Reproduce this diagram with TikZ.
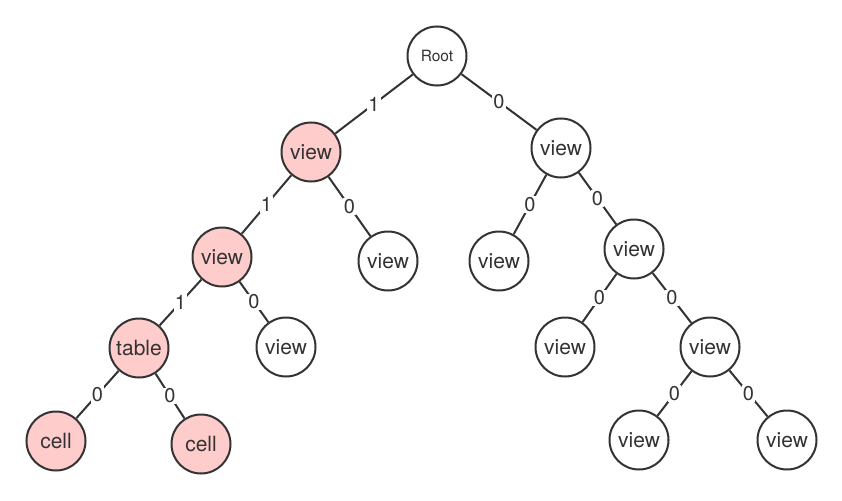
\documentclass[tikz,border=0pt]{standalone}
\usepackage{fontspec}
\setmainfont{TeX Gyre Heros}
\begin{document}
\begin{tikzpicture}[x=1pt,y=-1pt,
  ink/.style={draw=black!80},
  tnode/.style={circle,ink,line width=2pt,minimum size=59pt,inner sep=0pt,
    fill=white,font=\fontsize{21}{21}\selectfont,text=black!80},
  hot/.style={tnode,fill=red!20},
  edge/.style={ink,line width=2pt},
  bit/.style={fill=white,inner sep=1pt,font=\fontsize{20}{20}\selectfont,text=black!80}]
\useasboundingbox (0,0) rectangle (842,500);

% tree nodes
\node[tnode,font=\fontsize{15.5}{15.5}\selectfont] (root) at (437,56) {Root};
\node[hot]   (a)  at (311,152) {view};
\node[tnode] (b)  at (561,148) {view};
\node[hot]   (aa) at (222,257) {view};
\node[tnode] (ab) at (388,261) {view};
\node[tnode] (ba) at (499,261) {view};
\node[tnode] (bb) at (634,249) {view};
\node[hot]   (t)  at (139,348) {table};
\node[tnode] (ac) at (286,347) {view};
\node[tnode] (bc) at (565,347) {view};
\node[tnode] (bd) at (710,347) {view};
\node[hot]   (c1) at (56,441) {cell};
\node[hot]   (c2) at (201,444) {cell};
\node[tnode] (be) at (639,440) {view};
\node[tnode] (bf) at (787,440) {view};

% labelled branches
\draw[edge] (root) -- node[bit]{1} (a);
\draw[edge] (root) -- node[bit]{0} (b);
\draw[edge] (a)  -- node[bit]{1} (aa);
\draw[edge] (a)  -- node[bit]{0} (ab);
\draw[edge] (b)  -- node[bit]{0} (ba);
\draw[edge] (b)  -- node[bit]{0} (bb);
\draw[edge] (aa) -- node[bit]{1} (t);
\draw[edge] (aa) -- node[bit]{0} (ac);
\draw[edge] (bb) -- node[bit]{0} (bc);
\draw[edge] (bb) -- node[bit]{0} (bd);
\draw[edge] (t)  -- node[bit]{0} (c1);
\draw[edge] (t)  -- node[bit]{0} (c2);
\draw[edge] (bd) -- node[bit]{0} (be);
\draw[edge] (bd) -- node[bit]{0} (bf);
\end{tikzpicture}
\end{document}
